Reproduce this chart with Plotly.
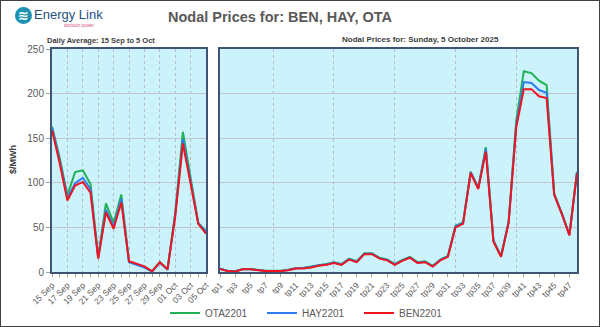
import plotly.graph_objects as go

# ---------------- data ----------------
days = ['15 Sep', '16 Sep', '17 Sep', '18 Sep', '19 Sep', '20 Sep', '21 Sep', '22 Sep',
        '23 Sep', '24 Sep', '25 Sep', '26 Sep', '27 Sep', '28 Sep', '29 Sep', '30 Sep',
        '01 Oct', '02 Oct', '03 Oct', '04 Oct', '05 Oct']
ota_daily = [163, 128, 86, 112, 114, 98.5, 17, 77, 55, 87, 11.5, 8.5, 5.5, 1, 11, 3, 66, 157, 107, 55, 46]
hay_daily = [162, 125, 83, 99.6, 105.5, 93, 15.5, 70, 51, 82, 11, 8, 5, 0.5, 10.5, 2.5, 64, 149, 103, 54.5, 45]
ben_daily = [159, 122, 80, 97, 101, 89, 15, 67, 48.5, 78, 12, 9.3, 6.3, 0.7, 11, 3, 62, 144, 100, 54, 43]

periods = ['tp%d' % i for i in range(1, 49)]
ben_tp = [3.4, 1, 0.5, 3, 3, 2, 1, 1, 1, 2, 4, 4, 5, 7, 8, 10, 8, 14, 11, 20, 20, 15, 13, 8,
          12.5, 16, 10, 11, 6, 13, 17, 50, 54, 111, 93, 135, 34, 17, 55, 162, 205, 205, 197, 195,
          86.5, 65, 41, 111]
hay_tp = [3.6, 1.2, 0.7, 3.2, 3.2, 2.2, 1.2, 1.2, 1.2, 2.3, 4.3, 4.4, 5.5, 7.5, 8.5, 10.5, 8.5, 14.5, 11.5, 20.5, 20.5, 15.5, 13.5, 8.5,
          13, 16.5, 10.5, 11.5, 6.5, 13.5, 17.5, 51, 55, 112, 94, 138, 35, 17.5, 56, 165, 213, 212, 204, 201,
          87, 65.5, 41.5, 112]
ota_tp = [3.8, 1.4, 0.9, 3.4, 3.4, 2.4, 1.4, 1.4, 1.4, 2.5, 4.6, 4.8, 6, 8, 9, 11, 9, 15, 12, 21, 21, 16, 14, 9,
          13.5, 17, 11, 12, 7, 14, 18, 52, 55.5, 112.5, 94.5, 140, 35.5, 18, 56.5, 170, 225, 223, 214.5, 209.5,
          87.5, 66, 42, 112.5]

series_names = ['OTA2201', 'HAY2201', 'BEN2201']
series_colors = ['#1FB356', '#2F7DF2', '#F0141E']
y_ticks = [0, 50, 100, 150, 200, 250]

# ---------------- layout helpers ----------------
W, H = 600, 327
def px(x):
    return x / W
def py(y):
    return 1 - y / H

FONT = 'Liberation Sans, Arial, sans-serif'
GREY = '#595959'
BG = '#CCF2FB'
BORDER = '#3F5573'

fig = go.Figure()

daily = [ota_daily, hay_daily, ben_daily]
tps = [ota_tp, hay_tp, ben_tp]
xi_d = list(range(len(days)))
xi_t = list(range(1, len(periods) + 1))

for name, col, ys in zip(series_names, series_colors, daily):
    fig.add_trace(go.Scatter(x=xi_d, y=ys, mode='lines', name=name, legendgroup=name,
                             line=dict(color=col, width=2), xaxis='x', yaxis='y',
                             hoverinfo='skip'))
for name, col, ys in zip(series_names, series_colors, tps):
    fig.add_trace(go.Scatter(x=xi_t, y=ys, mode='lines', name=name, legendgroup=name,
                             showlegend=False, line=dict(color=col, width=2),
                             xaxis='x2', yaxis='y2', hoverinfo='skip'))

axis_common = dict(showline=True, linecolor=BORDER, linewidth=2, mirror=True,
                   zeroline=False, fixedrange=True, automargin=False)

fig.update_layout(
    template='none',
    width=W, height=H,
    margin=dict(l=0, r=0, t=0, b=0, pad=0, autoexpand=False),
    paper_bgcolor='white',
    plot_bgcolor=BG,
    font=dict(family=FONT, color=GREY, size=10),
    xaxis=dict(domain=[px(52), px(206)], range=[0, len(days) - 1],
               tickmode='array', tickvals=xi_d[::2], ticktext=days[::2],
               tickangle=-45, tickfont=dict(size=8.5, color=GREY),
               ticks='outside', ticklen=3, tickcolor='#A0A0A0',
               showgrid=True, gridcolor='#B5BEC6', griddash='dot', gridwidth=1,
               minor=dict(dtick=1, tick0=0, ticks='outside', ticklen=3, tickcolor='#A0A0A0',
                          showgrid=False),
               **axis_common),
    yaxis=dict(domain=[py(272), py(49)], range=[0, 250], tickvals=y_ticks,
               tickfont=dict(size=10, color=GREY), ticks='outside', ticklen=4,
               tickcolor='#A0A0A0',
               showgrid=True, gridcolor='#C0C6CC', gridwidth=1, **axis_common),
    xaxis2=dict(domain=[px(220), px(577)], range=[1, len(periods)], anchor='y2',
                tickmode='array', tickvals=xi_t[::2], ticktext=periods[::2],
                tickangle=-45, tickfont=dict(size=8.5, color=GREY),
                ticks='outside', ticklen=3, tickcolor='#A0A0A0',
                showgrid=False,
                minor=dict(tickmode='array', tickvals=[8, 16, 24, 32, 40, 48], showgrid=True,
                           gridcolor='#B5BEC6', griddash='dot', gridwidth=1, ticks=''),
                **axis_common),
    yaxis2=dict(domain=[py(272), py(49)], range=[0, 250], tickvals=y_ticks, anchor='x2',
                showticklabels=False, showgrid=True, gridcolor='#C0C6CC', gridwidth=1,
                **axis_common),
    legend=dict(orientation='h', x=px(165), xanchor='left', y=py(313), yanchor='middle',
                font=dict(size=10, color=GREY), bgcolor='rgba(0,0,0,0)',
                entrywidth=52, entrywidthmode='pixels'),
    showlegend=True,
)

annotations = [
    dict(text='<b>Nodal Prices for: BEN, HAY, OTA</b>', x=px(280), y=py(17),
         font=dict(size=14.5, color=GREY, family=FONT)),
    dict(text='<b>Daily Average: 15 Sep to 5 Oct</b>', x=px(45), y=py(41), xanchor='left',
         font=dict(size=7.5, color='#404040', family=FONT)),
    dict(text='<b>Nodal Prices for: Sunday, 5 October 2025</b>', x=px(501), y=py(40),
         xanchor='right', font=dict(size=8, color='#404040', family=FONT)),
    dict(text='<b>$/MWh</b>', x=px(13), y=py(160), textangle=-90,
         font=dict(size=9, color='#404040', family=FONT)),
    dict(text='Energy Link', x=px(32), y=py(15), xanchor='left',
         font=dict(size=13, color='#27507E', family=FONT)),
    dict(text='decision power', x=px(97), y=py(25.5), xanchor='right',
         font=dict(size=4.5, color='#D9537A', family=FONT)),
    dict(text='<b>≋</b>', x=px(23.5), y=py(15.5),
         font=dict(size=13, color='white', family='DejaVu Sans')),
]
for a in annotations:
    a.update(xref='paper', yref='paper', showarrow=False)
    a.setdefault('xanchor', 'center')
    a.setdefault('yanchor', 'middle')
fig.update_layout(annotations=annotations)

fig.update_layout(shapes=[
    dict(type='rect', xref='paper', yref='paper', x0=0, x1=1, y0=0, y1=1,
         line=dict(color='#404040', width=2), layer='below'),
    dict(type='circle', xref='paper', yref='paper', x0=px(15), x1=px(32), y0=py(24), y1=py(7),
         fillcolor='#1B93B0', line=dict(width=0), layer='below'),
])

fig.write_html('out.html')
